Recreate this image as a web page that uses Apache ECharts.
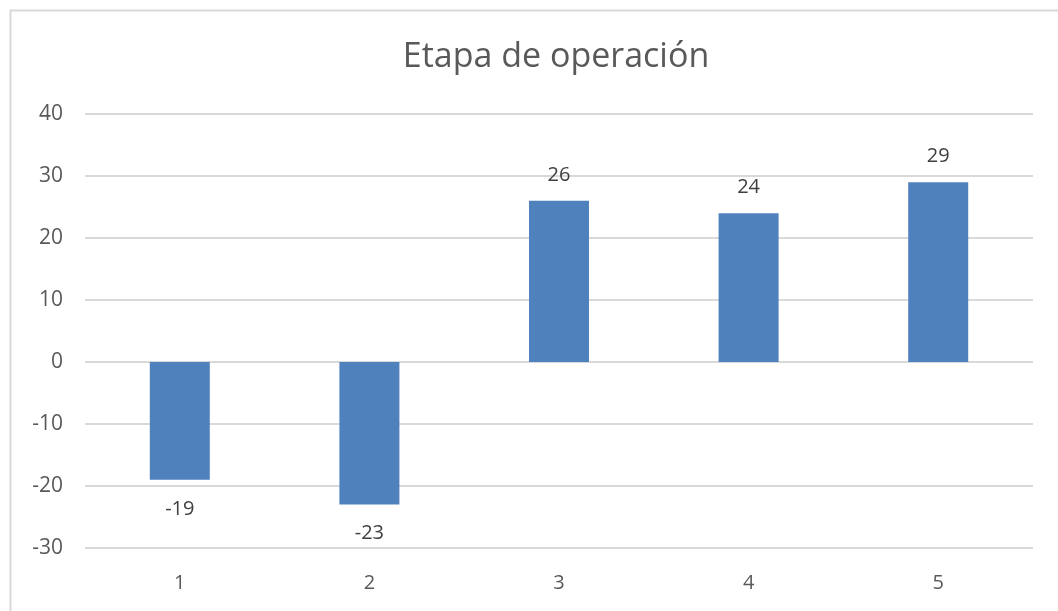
<!DOCTYPE html>
<html>
<head>
<meta charset="utf-8">
<script src="https://cdn.jsdelivr.net/npm/echarts@6/dist/echarts.min.js"></script>
<style>
  html, body { margin: 0; padding: 0; background: #fff; }
  #chart { width: 1058px; height: 611px; }
</style>
</head>
<body>
<div id="chart"></div>
<script>
const titleText = 'Etapa de operación';
const categories = ['1', '2', '3', '4', '5'];
const values = [-19, -23, 26, 24, 29];
const yTicks = { min: -30, max: 40, interval: 10 };

const FONT = '"Open Sans", "Liberation Sans", sans-serif';
const chart = echarts.init(document.getElementById('chart'));

chart.setOption({
  animation: false,
  backgroundColor: '#ffffff',
  graphic: [{
    type: 'rect',
    left: 8, top: 8,
    shape: { width: 1100, height: 700 },
    style: { fill: 'none', stroke: '#d9d9d9', lineWidth: 2 },
    silent: true
  }],
  title: {
    text: titleText,
    left: 551,
    textAlign: 'center',
    top: 35,
    textStyle: { fontFamily: FONT, fontSize: 34, fontWeight: 'normal', color: '#595959' }
  },
  grid: { left: 85, right: 25, top: 114, bottom: 63 },
  xAxis: {
    type: 'category',
    data: categories,
    axisLine: { show: false },
    axisTick: { show: false },
    axisLabel: { margin: 25, fontFamily: FONT, fontSize: 20, color: '#595959' }
  },
  yAxis: {
    type: 'value',
    min: yTicks.min, max: yTicks.max, interval: yTicks.interval,
    axisLine: { show: false },
    axisTick: { show: false },
    axisLabel: { margin: 22, fontFamily: FONT, fontSize: 21, color: '#595959' },
    splitLine: { lineStyle: { color: '#d9d9d9', width: 2 } }
  },
  series: [{
    type: 'bar',
    data: values.map(v => ({
      value: v,
      label: { position: v < 0 ? 'bottom' : 'top', distance: v < 0 ? 19 : 16 }
    })),
    barWidth: 60,
    itemStyle: { color: '#4f81bd' },
    label: {
      show: true,
      fontFamily: FONT, fontSize: 20, color: '#404040'
    }
  }]
});
</script>
</body>
</html>
